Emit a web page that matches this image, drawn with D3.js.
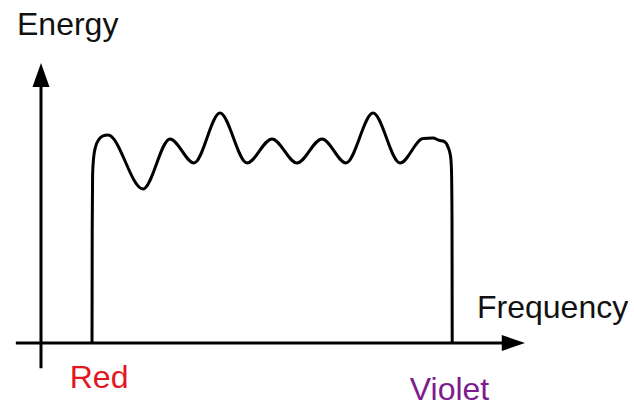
<!DOCTYPE html>
<html>
<head>
<meta charset="utf-8">
<script src="https://cdn.jsdelivr.net/npm/d3@7"></script>
<style>
  html, body { margin: 0; padding: 0; background: #fff; }
  svg { display: block; }
  text { font-family: "Liberation Sans", Arial, Helvetica, sans-serif; }
</style>
</head>
<body>
<svg id="chart" width="634" height="404"></svg>
<script>
// Spectrum curve (frequency units 0-100, energy units 0-100)
const frequency = [10.54, 10.58, 10.66, 10.87, 11.26, 11.88, 12.71, 13.84, 21.07, 26.65, 31.61, 36.98, 42.56, 47.73, 52.89, 58.06, 63.02, 68.60, 74.17, 78.93, 80.99, 82.23, 83.26, 84.09, 84.61, 84.81, 84.92, 84.96];
const energy    = [0,     40.4,  60.0,  66.1,  70.0,  72.5,  73.9,  74.3,  55.0,  72.9,  64.3,  82.1,  64.3,  72.9,  64.3,  72.9,  64.3,  82.1,  64.3,  73.0,  73.2,  72.4,  72.0,  70.0,  66.8,  61.8,  44.0,  0];

// Axis titles and end labels
const axisTitles = ["Energy", "Frequency"];
const endLabels = ["Red", "Violet"];
const endLabelFreq = [12.0, 84.4];
const endLabelColors = ["#e3161f", "#7d1c8e"];

const svg = d3.select("#chart");
const x = d3.scaleLinear().domain([0, 100]).range([41, 525]);
const y = d3.scaleLinear().domain([0, 100]).range([343, 63]);

// Axes
const axisG = svg.append("g").attr("stroke", "#000").attr("stroke-width", 3).attr("fill", "none");
axisG.append("line")
  .attr("x1", x(0)).attr("x2", x(0))
  .attr("y1", y(-9)).attr("y2", y(92));
axisG.append("line")
  .attr("x1", x(-5.2)).attr("x2", x(96))
  .attr("y1", y(0)).attr("y2", y(0));

// Arrowheads
svg.append("path")
  .attr("fill", "#000")
  .attr("d", `M${x(0)},${y(100)} L${x(0) - 8.5},${y(91.4)} L${x(0) + 8.5},${y(91.4)} Z`);
svg.append("path")
  .attr("fill", "#000")
  .attr("d", `M${x(100)},${y(0)} L${x(95.2)},${y(0) - 8} L${x(95.2)},${y(0) + 8} Z`);

// Curve
const pts = frequency.map((f, i) => [f, energy[i]]);
const line = d3.line()
  .x(d => x(d[0]))
  .y(d => y(d[1]))
  .curve(d3.curveMonotoneX);
svg.append("path")
  .datum(pts)
  .attr("fill", "none")
  .attr("stroke", "#000")
  .attr("stroke-width", 3)
  .attr("stroke-linejoin", "round")
  .attr("d", line);

// Axis titles
svg.append("text")
  .attr("x", 17).attr("y", 35)
  .attr("font-size", 32)
  .attr("fill", "#111")
  .text(axisTitles[0]);
svg.append("text")
  .attr("x", 477).attr("y", 318)
  .attr("font-size", 32)
  .attr("fill", "#111")
  .text(axisTitles[1]);

// End labels
svg.selectAll("text.end")
  .data(endLabels)
  .enter().append("text")
  .attr("class", "end")
  .attr("x", (d, i) => x(endLabelFreq[i]))
  .attr("y", (d, i) => i === 0 ? 388 : 400)
  .attr("text-anchor", "middle")
  .attr("font-size", 32)
  .attr("fill", (d, i) => endLabelColors[i])
  .text(d => d);
</script>
</body>
</html>
